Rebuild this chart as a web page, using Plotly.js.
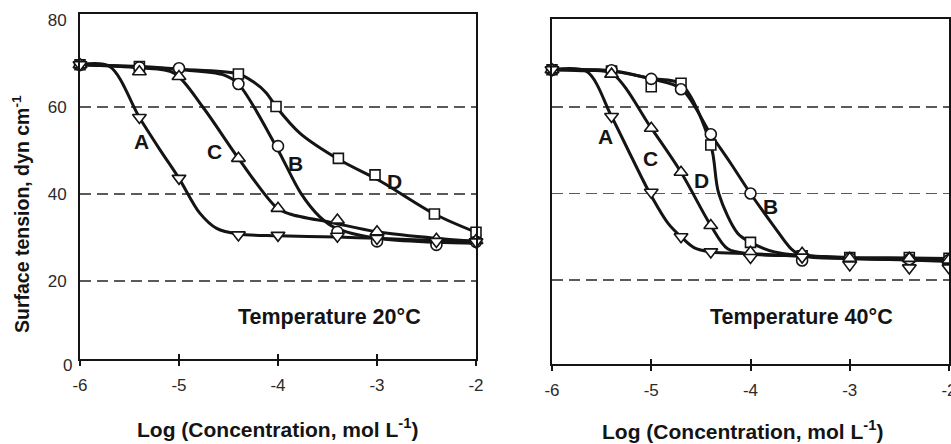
<!DOCTYPE html>
<html>
<head>
<meta charset="utf-8">
<script src="https://cdn.plot.ly/plotly-3.0.1.min.js"></script>
<style>html,body{margin:0;padding:0;background:#fff;}#chart{width:951px;height:444px;}</style>
</head>
<body>
<div id="chart"></div>
<script>
// ---------- DATA ----------
// 20 °C : measured points
const x20 = [-6, -5.4, -5, -4.4, -4, -3.4, -3, -2.4, -2];
const A20 = [69.7, 57.6, 43.6, 30.6, 30.5, 30.3, 29.8, 29.1, 29.0];
const B20 = [69.7, 69.1, 68.9, 65.3, 51.0, 31.3, 29.1, 28.3, 29.0];
const C20 = [69.7, 68.1, 67.0, 48.2, 36.7, 34.0, 31.3, 29.6, 29.3];
const xD20 = [-6, -5.4, -4.4, -4.02, -3.39, -3.02, -2.42, -2];
const D20 = [69.7, 69.3, 67.6, 60.1, 48.2, 44.4, 35.4, 31.2];

// 20 °C : drawn smooth curves
const cAx20 = [-6, -5.7, -5.4, -5.19, -5.0, -4.79, -4.62, -4.4, -4.0, -3.4, -3.0, -2.4, -2];
const cAy20 = [69.7, 69.3, 57.6, 50.1, 43.6, 35.6, 32.1, 30.8, 30.4, 30.1, 29.8, 29.3, 29.0];
const cBx20 = [-6, -5.4, -5.0, -4.55, -4.4, -4.02, -3.77, -3.58, -3.42, -3.0, -2.4, -2];
const cBy20 = [69.7, 69.2, 68.6, 67.4, 65.3, 51.0, 40.2, 34.8, 32.2, 29.8, 28.9, 28.7];
const cCx20 = [-6, -5.4, -5.05, -4.76, -4.4, -4.02, -3.88, -3.45, -3.0, -2.4, -2];
const cCy20 = [69.7, 69.0, 67.8, 60.0, 48.2, 37.0, 35.4, 33.4, 31.3, 29.8, 29.2];
const cDx20 = [-6, -5.4, -5.0, -4.4, -4.25, -4.12, -4.02, -3.78, -3.39, -3.0, -2.88, -2.42, -2];
const cDy20 = [69.7, 69.3, 68.7, 67.6, 65.8, 63.3, 60.1, 54.0, 48.0, 43.4, 41.8, 35.4, 31.2];

// 40 °C : measured points
const x40 = [-6, -5.4, -5, -4.7, -4.4, -4, -3.48, -3, -2.4, -2];
const A40 = [68.6, 57.8, 40.3, 30.0, 26.5, 25.2, 25.3, 23.5, 22.8, 22.8];
const B40 = [68.6, 68.5, 66.5, 64.1, 53.7, 40.0, 24.5, 25.0, 24.8, 24.6];
const C40 = [68.6, 67.6, 55.1, 44.9, 32.6, 26.4, 26.2, 25.0, 25.0, 24.6];
const D40 = [68.6, 68.3, 64.7, 65.5, 51.2, 28.7, 25.6, 25.2, 25.2, 25.0];

// 40 °C : drawn smooth curves
const cAx40 = [-6, -5.65, -5.4, -5.2, -5.02, -4.83, -4.7, -4.57, -4.4, -4.0, -3.48, -3.0, -2.4, -2];
const cAy40 = [68.6, 68.2, 57.8, 48.5, 40.3, 33.1, 30.0, 27.5, 26.5, 26.1, 25.5, 25.0, 24.6, 24.3];
const cBx40 = [-6, -5.4, -5.0, -4.7, -4.4, -4.2, -4.0, -3.76, -3.59, -3.48, -3.0, -2.4, -2];
const cBy40 = [68.6, 68.4, 66.5, 64.3, 53.7, 47.0, 40.0, 32.3, 27.2, 25.6, 25.0, 24.7, 24.5];
const cCx40 = [-6, -5.7, -5.4, -5.0, -4.7, -4.4, -4.23, -4.0, -3.48, -3.0, -2.4, -2];
const cCy40 = [68.6, 68.4, 67.8, 55.1, 44.9, 32.6, 27.2, 26.0, 25.6, 25.1, 24.8, 24.6];
const cDx40 = [-6, -5.4, -5.0, -4.7, -4.4, -4.32, -4.13, -4.0, -3.76, -3.48, -3.0, -2.4, -2];
const cDy40 = [68.6, 68.3, 66.6, 65.3, 51.2, 40.0, 30.8, 28.7, 26.5, 25.7, 25.2, 25.1, 25.0];

// axis ticks and labels
const xTicks = [-6, -5, -4, -3, -2];
const xTickText = ['-6', '-5', '-4', '-3', '-2'];
const yTicks = [20, 40, 60, 80];
const yGrid = [20, 40, 60];

// curve labels
const lab20 = {t: ['A', 'C', 'B', 'D'], x: [-5.38, -4.64, -3.82, -2.82], y: [52.0, 49.7, 47.0, 42.8]};
const lab40 = {t: ['A', 'C', 'D', 'B'], x: [-5.46, -5.01, -4.49, -3.80], y: [53.1, 48.1, 43.1, 36.9]};

// ---------- BUILD ----------
const FONT = 'Liberation Sans, Arial, sans-serif';
const INK = '#141414';
const traces = [];
function curve(x, y, xa, ya) {
  traces.push({x, y, xaxis: xa, yaxis: ya, mode: 'lines', type: 'scatter',
    line: {color: INK, width: 3, shape: 'spline', smoothing: 0.9}, hoverinfo: 'skip'});
}
function pts(x, y, sym, sz, xa, ya) {
  traces.push({x, y, xaxis: xa, yaxis: ya, mode: 'markers', type: 'scatter', cliponaxis: false,
    marker: {symbol: sym, size: sz, color: '#ffffff', line: {color: INK, width: 1.6}}});
}
curve(cAx20, cAy20, 'x', 'y'); curve(cBx20, cBy20, 'x', 'y');
curve(cCx20, cCy20, 'x', 'y'); curve(cDx20, cDy20, 'x', 'y');
curve(cAx40, cAy40, 'x2', 'y2'); curve(cBx40, cBy40, 'x2', 'y2');
curve(cCx40, cCy40, 'x2', 'y2'); curve(cDx40, cDy40, 'x2', 'y2');

pts(xD20, D20, 'square', 10, 'x', 'y');
pts(x20, B20, 'circle', 11, 'x', 'y');
pts(x20, C20, 'triangle-up', 12, 'x', 'y');
pts(x20, A20, 'triangle-down', 12, 'x', 'y');
pts(x40, D40, 'square', 10, 'x2', 'y2');
pts(x40, B40, 'circle', 11, 'x2', 'y2');
pts(x40, C40, 'triangle-up', 12, 'x2', 'y2');
pts(x40, A40, 'triangle-down', 12, 'x2', 'y2');
// helper traces so the inner tick axes are drawn
traces.push({x: [], y: [], xaxis: 'x3', yaxis: 'y', type: 'scatter', showlegend: false});
traces.push({x: [], y: [], xaxis: 'x4', yaxis: 'y2', type: 'scatter', showlegend: false});

function xAxis(dom, anchor) {
  return {domain: dom, anchor: anchor, range: [-6, -2], tickvals: xTicks, ticktext: xTickText,
    ticks: 'outside', ticklen: 5, tickwidth: 2, tickcolor: INK, ticklabelstandoff: 5,
    ticklabeloverflow: 'allow',
    showline: true, mirror: true, linecolor: INK, linewidth: 2, showgrid: false, zeroline: false,
    tickfont: {family: FONT, size: 17, color: '#2a2a2a'}, fixedrange: true};
}
function xInner(dom, anchor, over) {
  return {domain: dom, anchor: anchor, overlaying: over, range: [-6, -2], tickvals: xTicks,
    ticks: 'inside', ticklen: 5, tickwidth: 2, tickcolor: INK, showticklabels: false,
    showline: false, showgrid: false, zeroline: false, side: 'bottom'};
}
function yAxis(dom, anchor, range, labels) {
  return {domain: dom, anchor: anchor, range: range, tickvals: yTicks, ticks: '', showticklabels: labels,
    ticklabelstandoff: 8, showline: true, mirror: true, linecolor: INK, linewidth: 2,
    showgrid: false, zeroline: false, tickfont: {family: FONT, size: 17, color: '#2a2a2a'},
    minor: {tickvals: yGrid, ticks: '', showgrid: true, gridcolor: '#5a5a5a', gridwidth: 1.4, griddash: '11px,6px'},
    fixedrange: true};
}

const dL = [80 / 951, 476 / 951], dR = [552 / 951, 949 / 951];
const annotations = [];
const LBL = {family: FONT, size: 21, color: INK, weight: 'bold'};
lab20.t.forEach((t, i) => annotations.push({xref: 'x', yref: 'y', x: lab20.x[i], y: lab20.y[i], text: t,
  xanchor: 'center', yanchor: 'middle', showarrow: false, font: LBL}));
lab40.t.forEach((t, i) => annotations.push({xref: 'x2', yref: 'y2', x: lab40.x[i], y: lab40.y[i], text: t,
  xanchor: 'center', yanchor: 'middle', showarrow: false, font: LBL}));
annotations.push({xref: 'x', yref: 'y', x: -3.48, y: 11.7, text: 'Temperature 20°C', showarrow: false,
  xanchor: 'center', yanchor: 'middle', font: {family: FONT, size: 21.5, color: INK, weight: 'bold'}});
annotations.push({xref: 'x2', yref: 'y2', x: -3.49, y: 11.4, text: 'Temperature 40°C', showarrow: false,
  xanchor: 'center', yanchor: 'middle', font: {family: FONT, size: 21.5, color: INK, weight: 'bold'}});
annotations.push({xref: 'paper', yref: 'paper', x: 74 / 951, y: 1 - 365 / 444, xanchor: 'right', yanchor: 'middle',
  text: '0', showarrow: false, font: {family: FONT, size: 17, color: '#2a2a2a'}});
annotations.push({xref: 'paper', yref: 'paper', x: 277 / 951, y: 1 - 428 / 444, xanchor: 'center', yanchor: 'middle',
  text: 'Log (Concentration, mol L<sup>-1</sup>)', showarrow: false, font: {family: FONT, size: 21, color: INK, weight: 'bold'}});
annotations.push({xref: 'paper', yref: 'paper', x: 742 / 951, y: 1 - 430 / 444, xanchor: 'center', yanchor: 'middle',
  text: 'Log (Concentration, mol L<sup>-1</sup>)', showarrow: false, font: {family: FONT, size: 21, color: INK, weight: 'bold'}});
annotations.push({xref: 'paper', yref: 'paper', x: 21 / 951, y: 1 - 214 / 444, xanchor: 'center', yanchor: 'middle',
  text: 'Surface tension, dyn cm<sup>-1</sup>', textangle: -90, showarrow: false,
  font: {family: FONT, size: 19.5, color: INK, weight: 'bold'}});

const layout = {
  width: 951, height: 444, margin: {l: 0, r: 0, t: 0, b: 0},
  paper_bgcolor: '#ffffff', plot_bgcolor: '#ffffff', showlegend: false,
  xaxis: xAxis(dL, 'y'), yaxis: yAxis([1 - 359 / 444, 1 - 14 / 444], 'x', [2.07, 81.38], true),
  xaxis2: xAxis(dR, 'y2'), yaxis2: yAxis([1 - 364 / 444, 1 - 19 / 444], 'x2', [0.58, 80.35], false),
  xaxis3: xInner(dL, 'y', 'x'), xaxis4: xInner(dR, 'y2', 'x2'),
  annotations: annotations
};
Plotly.newPlot('chart', traces, layout, {displayModeBar: false, staticPlot: true});
</script>
</body>
</html>
